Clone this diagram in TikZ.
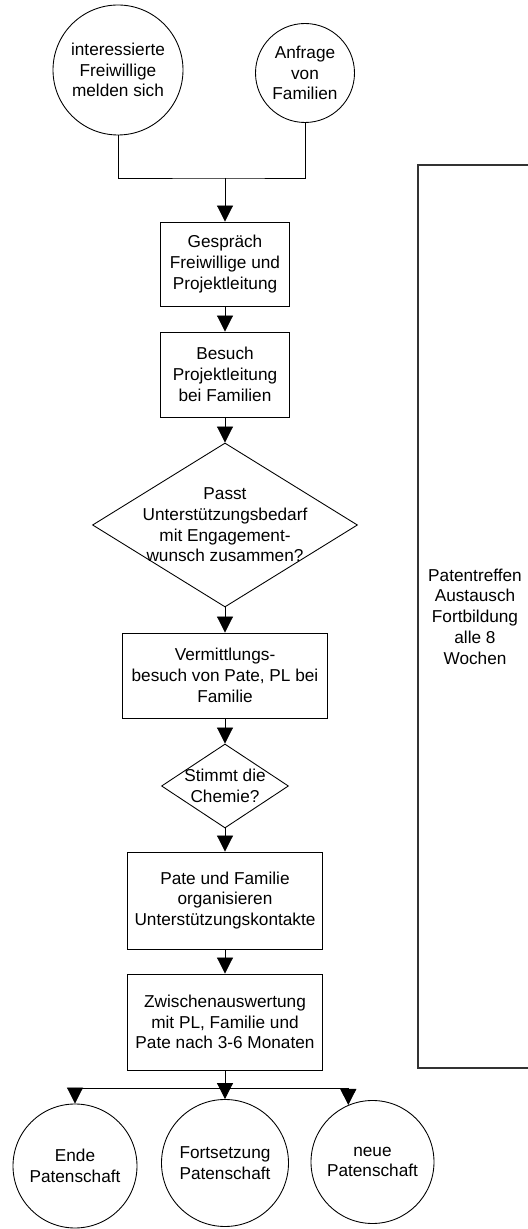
\documentclass[tikz,border=0pt]{standalone}
\usepackage{fontspec}
\setmainfont{Liberation Sans}
\usepackage{xcolor}
\definecolor{chartLine}{HTML}{000000}
\definecolor{chartFrame}{HTML}{333333}
\usepackage{tikz}
\usetikzlibrary{shapes.geometric,arrows.meta,positioning,calc}
\newcommand{\chartfont}{\fontsize{9.8}{11.8}\selectfont}
\tikzset{
    process/.style={
        draw=chartLine,
        fill=white,
        rectangle,
        align=center,
        inner sep=0pt,
        line width=0.5pt,
        font=\chartfont
    },
    event/.style={
        draw=chartLine,
        fill=white,
        circle,
        align=center,
        inner sep=0pt,
        line width=0.5pt,
        font=\chartfont
    },
    decision/.style={
        draw=chartLine,
        diamond,
        inner sep=0pt,
        line width=0.5pt
    },
    decisiontext/.style={
        align=center,
        inner sep=0pt,
        font=\chartfont
    },
    frame/.style={
        draw=chartFrame,
        rectangle,
        align=center,
        inner sep=0pt,
        line width=0.6pt,
        font=\chartfont
    },
    line/.style={
        line width=0.5pt,
        color=chartLine
    },
    arrow/.style={
        -{Triangle[width=0.32cm,length=0.32cm]},
        line width=0.5pt,
        color=chartLine
    }
}

\begin{document}
\begin{tikzpicture}
    \clip (0,0) rectangle (10.56,24.58);

    % Start events
    \node[event, minimum size=2.6cm] (volunteers) at (2.36,23.18)
        {interessierte\\Freiwillige\\melden sich};
    \node[event, minimum size=1.98cm] (families) at (6.10,23.12)
        {Anfrage\\von\\Familien};
    \coordinate (join) at (4.5,21.02);

    % Main flow
    \node[process, minimum width=2.58cm, minimum height=1.68cm] (talk) at (4.5,19.30)
        {Gespräch\\Freiwillige und\\Projektleitung};
    \node[process, minimum width=2.58cm, minimum height=1.70cm] (visit) at (4.5,17.09)
        {Besuch\\Projektleitung\\bei Familien};
    \node[decision, minimum width=5.3cm, minimum height=3.28cm] (match) at (4.5,14.08) {};
    \node[decisiontext] (matchtext) at (match)
        {Passt\\Unterstützungsbedarf\\mit Engagement-\\wunsch zusammen?};
    \node[process, minimum width=4.1cm, minimum height=1.70cm] (mediate) at (4.5,11.07)
        {Vermittlungs-\\besuch von Pate, PL bei\\Familie};
    \node[decision, minimum width=2.54cm, minimum height=1.68cm] (chem) at (4.5,8.86) {};
    \node[decisiontext] (chemtext) at (chem) {Stimmt die\\Chemie?};
    \node[process, minimum width=3.9cm, minimum height=1.94cm] (contacts) at (4.5,6.57)
        {Pate und Familie\\organisieren\\Unterstützungskontakte};
    \node[process, minimum width=3.9cm, minimum height=1.92cm] (review) at (4.5,4.14)
        {Zwischenauswertung\\mit PL, Familie und\\Pate nach 3-6 Monaten};
    \coordinate (split) at (4.5,2.82);

    % End events
    \node[event, minimum size=2.48cm] (ending) at (1.50,1.26) {Ende\\Patenschaft};
    \node[event, minimum size=2.54cm] (goon) at (4.5,1.32) {Fortsetzung\\Patenschaft};
    \node[event, minimum size=2.46cm] (newsp) at (7.45,1.34) {neue\\Patenschaft};

    % Side frame
    \node[frame, minimum width=2.28cm, minimum height=18.06cm] (meeting) at (9.5,12.25)
        {Patentreffen\\Austausch\\Fortbildung\\alle 8\\Wochen};

    % Connectors
    \draw[line] (volunteers.south) |- (join) -| (families.south);
    \draw[arrow] (join) -- (talk);
    \draw[arrow] (talk) -- (visit);
    \draw[arrow] (visit) -- (match);
    \draw[arrow] (match) -- (mediate);
    \draw[arrow] (mediate) -- (chem);
    \draw[arrow] (chem) -- (contacts);
    \draw[arrow] (contacts) -- (review);
    \draw[line] (review) -- (split);
    \draw[line] (ending.north |- split) -- (newsp.113.5 |- split);
    \draw[arrow] (ending.north |- split) -- (ending);
    \draw[arrow] (split) -- (goon);
    \draw[arrow] (newsp.113.5 |- split) -- (newsp.113.5);
\end{tikzpicture}
\end{document}
